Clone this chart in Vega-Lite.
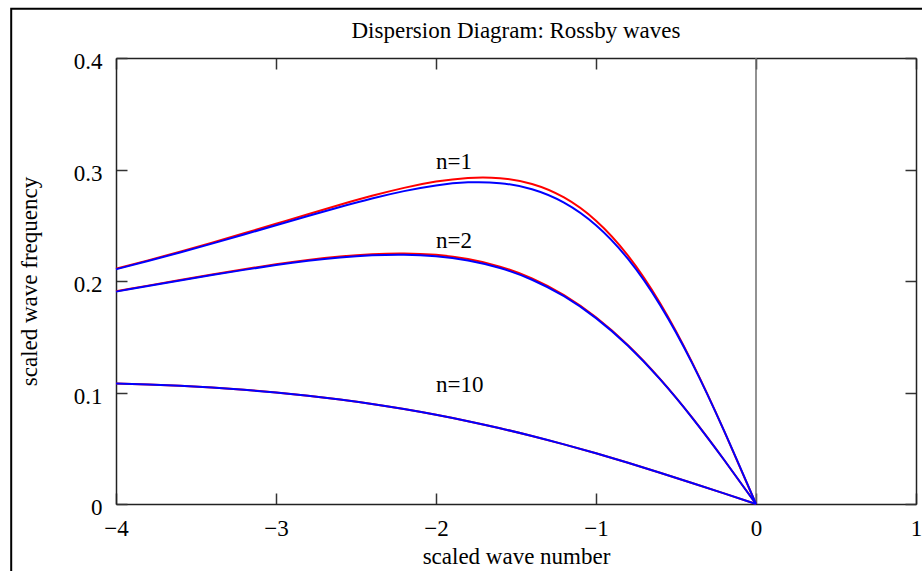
{
  "$schema": "https://vega.github.io/schema/vega-lite/v6.json",
  "width": 800,
  "height": 446,
  "autosize": {"type": "none"},
  "padding": {"left": 116, "top": 58, "right": 6, "bottom": 67},
  "background": "white",
  "config": {
    "view": {"stroke": null},
    "font": "Liberation Serif",
    "axis": {"grid": false, "labelFont": "Liberation Serif", "titleFont": "Liberation Serif", "labelFontSize": 23, "titleFontSize": 23, "titleFontWeight": "normal", "labelColor": "black", "titleColor": "black", "domainColor": "#222", "domainWidth": 1.5, "tickColor": "#333", "tickWidth": 1.5, "tickSize": -11, "labelFlush": false, "labelOverlap": false}
  },
  "title": {"text": "Dispersion Diagram: Rossby waves", "font": "Liberation Serif", "fontSize": 23, "fontWeight": "normal", "color": "black", "anchor": "middle", "frame": "group", "offset": -35},
  "datasets": {
    "curves": [
      {"k": -4.0, "w": 0.21102, "n": 1, "m": "exact"},
      {"k": -3.8, "w": 0.21849, "n": 1, "m": "exact"},
      {"k": -3.6, "w": 0.22629, "n": 1, "m": "exact"},
      {"k": -3.4, "w": 0.2344, "n": 1, "m": "exact"},
      {"k": -3.2, "w": 0.24277, "n": 1, "m": "exact"},
      {"k": -3.0, "w": 0.25132, "n": 1, "m": "exact"},
      {"k": -2.8, "w": 0.25992, "n": 1, "m": "exact"},
      {"k": -2.6, "w": 0.26837, "n": 1, "m": "exact"},
      {"k": -2.4, "w": 0.27638, "n": 1, "m": "exact"},
      {"k": -2.2, "w": 0.28352, "n": 1, "m": "exact"},
      {"k": -2.0, "w": 0.28917, "n": 1, "m": "exact"},
      {"k": -1.8, "w": 0.29247, "n": 1, "m": "exact"},
      {"k": -1.6, "w": 0.29226, "n": 1, "m": "exact"},
      {"k": -1.4, "w": 0.28703, "n": 1, "m": "exact"},
      {"k": -1.2, "w": 0.27495, "n": 1, "m": "exact"},
      {"k": -1.0, "w": 0.2541, "n": 1, "m": "exact"},
      {"k": -0.8, "w": 0.22282, "n": 1, "m": "exact"},
      {"k": -0.6, "w": 0.18032, "n": 1, "m": "exact"},
      {"k": -0.4, "w": 0.12723, "n": 1, "m": "exact"},
      {"k": -0.2, "w": 0.06588, "n": 1, "m": "exact"},
      {"k": 0.0, "w": 0, "n": 1, "m": "exact"},
      {"k": -4.0, "w": 0.19081, "n": 2, "m": "exact"},
      {"k": -3.8, "w": 0.19586, "n": 2, "m": "exact"},
      {"k": -3.6, "w": 0.2009, "n": 2, "m": "exact"},
      {"k": -3.4, "w": 0.20584, "n": 2, "m": "exact"},
      {"k": -3.2, "w": 0.21059, "n": 2, "m": "exact"},
      {"k": -3.0, "w": 0.215, "n": 2, "m": "exact"},
      {"k": -2.8, "w": 0.21889, "n": 2, "m": "exact"},
      {"k": -2.6, "w": 0.22202, "n": 2, "m": "exact"},
      {"k": -2.4, "w": 0.2241, "n": 2, "m": "exact"},
      {"k": -2.2, "w": 0.22473, "n": 2, "m": "exact"},
      {"k": -2.0, "w": 0.22346, "n": 2, "m": "exact"},
      {"k": -1.8, "w": 0.21973, "n": 2, "m": "exact"},
      {"k": -1.6, "w": 0.21292, "n": 2, "m": "exact"},
      {"k": -1.4, "w": 0.20234, "n": 2, "m": "exact"},
      {"k": -1.2, "w": 0.18736, "n": 2, "m": "exact"},
      {"k": -1.0, "w": 0.16744, "n": 2, "m": "exact"},
      {"k": -0.8, "w": 0.14236, "n": 2, "m": "exact"},
      {"k": -0.6, "w": 0.1122, "n": 2, "m": "exact"},
      {"k": -0.4, "w": 0.07761, "n": 2, "m": "exact"},
      {"k": -0.2, "w": 0.03969, "n": 2, "m": "exact"},
      {"k": 0.0, "w": 0, "n": 2, "m": "exact"},
      {"k": -4.0, "w": 0.10814, "n": 10, "m": "exact"},
      {"k": -3.8, "w": 0.10725, "n": 10, "m": "exact"},
      {"k": -3.6, "w": 0.10604, "n": 10, "m": "exact"},
      {"k": -3.4, "w": 0.10445, "n": 10, "m": "exact"},
      {"k": -3.2, "w": 0.10246, "n": 10, "m": "exact"},
      {"k": -3.0, "w": 0.10003, "n": 10, "m": "exact"},
      {"k": -2.8, "w": 0.09712, "n": 10, "m": "exact"},
      {"k": -2.6, "w": 0.09369, "n": 10, "m": "exact"},
      {"k": -2.4, "w": 0.08972, "n": 10, "m": "exact"},
      {"k": -2.2, "w": 0.08516, "n": 10, "m": "exact"},
      {"k": -2.0, "w": 0.08002, "n": 10, "m": "exact"},
      {"k": -1.8, "w": 0.07428, "n": 10, "m": "exact"},
      {"k": -1.6, "w": 0.06793, "n": 10, "m": "exact"},
      {"k": -1.4, "w": 0.06099, "n": 10, "m": "exact"},
      {"k": -1.2, "w": 0.05349, "n": 10, "m": "exact"},
      {"k": -1.0, "w": 0.04545, "n": 10, "m": "exact"},
      {"k": -0.8, "w": 0.03697, "n": 10, "m": "exact"},
      {"k": -0.6, "w": 0.02809, "n": 10, "m": "exact"},
      {"k": -0.4, "w": 0.0189, "n": 10, "m": "exact"},
      {"k": -0.2, "w": 0.00951, "n": 10, "m": "exact"},
      {"k": 0.0, "w": 0, "n": 10, "m": "exact"},
      {"k": -4.0, "w": 0.21053, "n": 1, "m": "approx"},
      {"k": -3.8, "w": 0.21789, "n": 1, "m": "approx"},
      {"k": -3.6, "w": 0.22556, "n": 1, "m": "approx"},
      {"k": -3.4, "w": 0.23352, "n": 1, "m": "approx"},
      {"k": -3.2, "w": 0.24169, "n": 1, "m": "approx"},
      {"k": -3.0, "w": 0.25, "n": 1, "m": "approx"},
      {"k": -2.8, "w": 0.2583, "n": 1, "m": "approx"},
      {"k": -2.6, "w": 0.26639, "n": 1, "m": "approx"},
      {"k": -2.4, "w": 0.27397, "n": 1, "m": "approx"},
      {"k": -2.2, "w": 0.28061, "n": 1, "m": "approx"},
      {"k": -2.0, "w": 0.28571, "n": 1, "m": "approx"},
      {"k": -1.8, "w": 0.28846, "n": 1, "m": "approx"},
      {"k": -1.6, "w": 0.28777, "n": 1, "m": "approx"},
      {"k": -1.4, "w": 0.28226, "n": 1, "m": "approx"},
      {"k": -1.2, "w": 0.27027, "n": 1, "m": "approx"},
      {"k": -1.0, "w": 0.25, "n": 1, "m": "approx"},
      {"k": -0.8, "w": 0.21978, "n": 1, "m": "approx"},
      {"k": -0.6, "w": 0.17857, "n": 1, "m": "approx"},
      {"k": -0.4, "w": 0.12658, "n": 1, "m": "approx"},
      {"k": -0.2, "w": 0.06579, "n": 1, "m": "approx"},
      {"k": 0.0, "w": 0, "n": 1, "m": "approx"},
      {"k": -4.0, "w": 0.19048, "n": 2, "m": "approx"},
      {"k": -3.8, "w": 0.19547, "n": 2, "m": "approx"},
      {"k": -3.6, "w": 0.20045, "n": 2, "m": "approx"},
      {"k": -3.4, "w": 0.20531, "n": 2, "m": "approx"},
      {"k": -3.2, "w": 0.20997, "n": 2, "m": "approx"},
      {"k": -3.0, "w": 0.21429, "n": 2, "m": "approx"},
      {"k": -2.8, "w": 0.21807, "n": 2, "m": "approx"},
      {"k": -2.6, "w": 0.22109, "n": 2, "m": "approx"},
      {"k": -2.4, "w": 0.22305, "n": 2, "m": "approx"},
      {"k": -2.2, "w": 0.22358, "n": 2, "m": "approx"},
      {"k": -2.0, "w": 0.22222, "n": 2, "m": "approx"},
      {"k": -1.8, "w": 0.21845, "n": 2, "m": "approx"},
      {"k": -1.6, "w": 0.21164, "n": 2, "m": "approx"},
      {"k": -1.4, "w": 0.20115, "n": 2, "m": "approx"},
      {"k": -1.2, "w": 0.18634, "n": 2, "m": "approx"},
      {"k": -1.0, "w": 0.16667, "n": 2, "m": "approx"},
      {"k": -0.8, "w": 0.14184, "n": 2, "m": "approx"},
      {"k": -0.6, "w": 0.11194, "n": 2, "m": "approx"},
      {"k": -0.4, "w": 0.07752, "n": 2, "m": "approx"},
      {"k": -0.2, "w": 0.03968, "n": 2, "m": "approx"},
      {"k": 0.0, "w": 0, "n": 2, "m": "approx"},
      {"k": -4.0, "w": 0.10811, "n": 10, "m": "approx"},
      {"k": -3.8, "w": 0.10722, "n": 10, "m": "approx"},
      {"k": -3.6, "w": 0.10601, "n": 10, "m": "approx"},
      {"k": -3.4, "w": 0.10442, "n": 10, "m": "approx"},
      {"k": -3.2, "w": 0.10243, "n": 10, "m": "approx"},
      {"k": -3.0, "w": 0.1, "n": 10, "m": "approx"},
      {"k": -2.8, "w": 0.09709, "n": 10, "m": "approx"},
      {"k": -2.6, "w": 0.09366, "n": 10, "m": "approx"},
      {"k": -2.4, "w": 0.08969, "n": 10, "m": "approx"},
      {"k": -2.2, "w": 0.08514, "n": 10, "m": "approx"},
      {"k": -2.0, "w": 0.08, "n": 10, "m": "approx"},
      {"k": -1.8, "w": 0.07426, "n": 10, "m": "approx"},
      {"k": -1.6, "w": 0.06791, "n": 10, "m": "approx"},
      {"k": -1.4, "w": 0.06098, "n": 10, "m": "approx"},
      {"k": -1.2, "w": 0.05348, "n": 10, "m": "approx"},
      {"k": -1.0, "w": 0.04545, "n": 10, "m": "approx"},
      {"k": -0.8, "w": 0.03697, "n": 10, "m": "approx"},
      {"k": -0.6, "w": 0.02809, "n": 10, "m": "approx"},
      {"k": -0.4, "w": 0.0189, "n": 10, "m": "approx"},
      {"k": -0.2, "w": 0.00951, "n": 10, "m": "approx"},
      {"k": 0.0, "w": 0, "n": 10, "m": "approx"}
    ],
    "labels": [
      {"k": -2, "w": 0.307, "label": "n=1"},
      {"k": -2, "w": 0.236, "label": "n=2"},
      {"k": -2, "w": 0.107, "label": "n=10"}
    ]
  },
  "resolve": {"axis": {"x": "independent", "y": "independent"}},
  "layer": [
    {
      "data": {"values": [{}]},
      "mark": {"type": "rect", "fill": null, "stroke": "black", "strokeWidth": 2, "clip": false},
      "encoding": {
        "x": {"datum": -4.655, "type": "quantitative", "axis": null},
        "x2": {"datum": 1.2},
        "y": {"datum": 0.4442, "type": "quantitative", "axis": null},
        "y2": {"datum": -0.2}
      }
    },
    {
      "data": {"values": [{}]},
      "mark": {"type": "rule", "color": "#6e6e6e", "strokeWidth": 1.5},
      "encoding": {
        "x": {"datum": 0, "type": "quantitative", "axis": null}
      }
    },
    {
      "data": {"name": "curves"},
      "transform": [{"filter": "datum.m == 'exact'"}],
      "mark": {"type": "line", "color": "#ff0000", "strokeWidth": 2, "interpolate": "natural"},
      "encoding": {
        "x": {"field": "k", "type": "quantitative", "scale": {"domain": [-4, 1], "nice": false, "zero": false},
          "axis": {"orient": "bottom", "values": [-4, -3, -2, -1, 0, 1], "format": "d", "labelPadding": 24, "title": "scaled wave number", "titlePadding": 5}},
        "y": {"field": "w", "type": "quantitative", "scale": {"domain": [0, 0.4], "nice": false},
          "axis": {"orient": "left", "values": [0, 0.1, 0.2, 0.3, 0.4], "format": ".1~f", "labelPadding": 25, "labelOffset": 3.5, "title": "scaled wave frequency", "titlePadding": 32}},
        "detail": {"field": "n", "type": "nominal"},
        "order": {"field": "k", "type": "quantitative"}
      }
    },
    {
      "data": {"name": "curves"},
      "transform": [{"filter": "datum.m == 'approx'"}],
      "mark": {"type": "line", "color": "#0000ff", "strokeWidth": 2, "interpolate": "natural"},
      "encoding": {
        "x": {"field": "k", "type": "quantitative",
          "axis": {"orient": "top", "values": [-4, -3, -2, -1, 0, 1], "labels": false, "title": null}},
        "y": {"field": "w", "type": "quantitative",
          "axis": {"orient": "right", "values": [0, 0.1, 0.2, 0.3, 0.4], "labels": false, "title": null}},
        "detail": {"field": "n", "type": "nominal"},
        "order": {"field": "k", "type": "quantitative"}
      }
    },
    {
      "data": {"name": "labels"},
      "mark": {"type": "text", "align": "left", "baseline": "middle", "font": "Liberation Serif", "fontSize": 23, "color": "black"},
      "encoding": {
        "x": {"field": "k", "type": "quantitative", "axis": null},
        "y": {"field": "w", "type": "quantitative", "axis": null},
        "text": {"field": "label", "type": "nominal"}
      }
    }
  ]
}
